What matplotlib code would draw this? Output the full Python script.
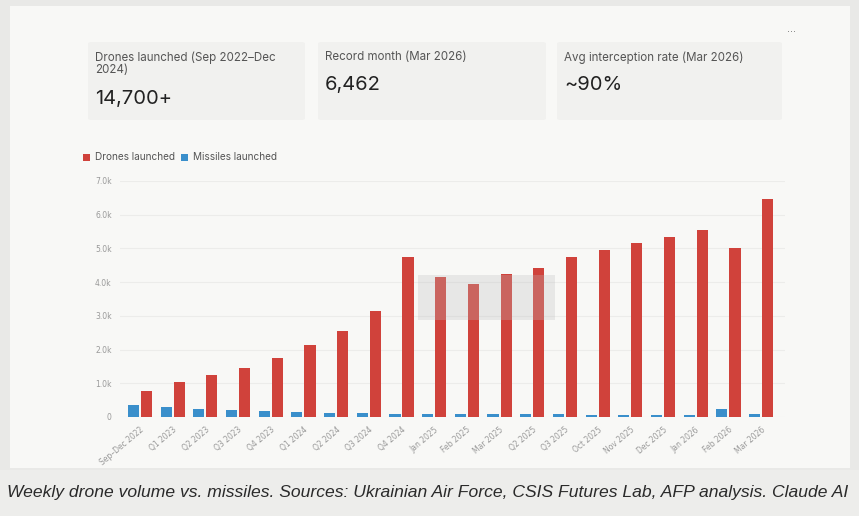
import matplotlib
matplotlib.use("Agg")
import matplotlib.pyplot as plt
from matplotlib.patches import Rectangle, FancyBboxPatch

# Data
periods = ["Sep–Dec 2022", "Q1 2023", "Q2 2023", "Q3 2023", "Q4 2023",
           "Q1 2024", "Q2 2024", "Q3 2024", "Q4 2024", "Jan 2025",
           "Feb 2025", "Mar 2025", "Q2 2025", "Q3 2025", "Oct 2025",
           "Nov 2025", "Dec 2025", "Jan 2026", "Feb 2026", "Mar 2026"]
drones = [780, 1050, 1250, 1450, 1750, 2140, 2540, 3150, 4750, 4150,
          3950, 4240, 4430, 4750, 4960, 5150, 5350, 5550, 5000, 6462]
missiles = [350, 300, 250, 220, 180, 150, 130, 120, 100, 90,
            85, 85, 80, 75, 70, 65, 60, 55, 250, 100]
yticks = [0, 1000, 2000, 3000, 4000, 5000, 6000, 7000]
ytick_labels = ["0", "1.0k", "2.0k", "3.0k", "4.0k", "5.0k", "6.0k", "7.0k"]

kpis = [("Drones launched (Sep 2022–Dec\n2024)", "14,700+"),
        ("Record month (Mar 2026)", "6,462"),
        ("Avg interception rate (Mar 2026)", "~90%")]

red = "#d0423b"
blue = "#3a8fcb"
W, H = 859, 516

fig = plt.figure(figsize=(W / 100, H / 100), dpi=100)
fig.patch.set_facecolor("#e9e9e7")


def fx(px):
    return px / W


def fy(py):
    return 1 - py / H


# card background
fig.patches.append(Rectangle((fx(10), fy(468)), fx(840), 462 / H,
                             transform=fig.transFigure, facecolor="#f8f8f6",
                             edgecolor="none", zorder=-2))

# KPI cards
card_x = [88, 318, 557]
card_w = [217, 228, 225]
for (label, value), x0, w in zip(kpis, card_x, card_w):
    fig.patches.append(FancyBboxPatch((fx(x0), fy(120)), fx(w), 78 / H,
                                      boxstyle="round,pad=0,rounding_size=0.004",
                                      transform=fig.transFigure,
                                      facecolor="#f1f1ef", edgecolor="none", zorder=-1))
    fig.text(fx(x0 + 7), fy(51), label, fontsize=8.3, color="#555555",
             family="Inter", va="top", linespacing=1.1)
    vy = 99 if "\n" in label else 85
    fig.text(fx(x0 + 7), fy(vy), value, fontsize=14.5, color="#222222",
             family="Inter", va="center")
fig.text(fx(792), fy(32), "...", fontsize=7, color="#777777", ha="center")

# legend
fig.patches.append(Rectangle((fx(83), fy(161)), fx(7), 7 / H, transform=fig.transFigure,
                             facecolor=red, edgecolor="none"))
fig.text(fx(95), fy(157.5), "Drones launched", fontsize=7.2, color="#555555",
         family="Inter", va="center")
fig.patches.append(Rectangle((fx(181), fy(161)), fx(7), 7 / H, transform=fig.transFigure,
                             facecolor=blue, edgecolor="none"))
fig.text(fx(193), fy(157.5), "Missiles launched", fontsize=7.2, color="#555555",
         family="Inter", va="center")

# bar chart
ax = fig.add_axes([fx(120), fy(417), fx(665), (417 - 181) / H])
ax.set_zorder(1)
ax.set_facecolor("none")
x = list(range(len(periods)))
bw = 0.34
ax.bar([i - 0.2 for i in x], missiles, width=bw, color=blue, zorder=3)
ax.bar([i + 0.2 for i in x], drones, width=bw, color=red, zorder=3)

# faint tooltip overlay seen in the reference
ax.add_patch(Rectangle((8.5, 2880), 4.2, 1330, facecolor="#bdbdbd", alpha=0.28,
                       edgecolor="none", zorder=4))

ax.set_xlim(-0.61, 19.73)
ax.set_ylim(0, 7000)
ax.set_yticks(yticks)
ax.set_yticklabels(ytick_labels)
ax.set_xticks(x)
ax.set_xticklabels(periods, rotation=40, ha="right", rotation_mode="anchor")
ax.tick_params(axis="both", length=0, labelsize=5.5, colors="#999999", pad=6)
ax.grid(axis="y", color="#ececea", linewidth=0.8, zorder=0)
for s in ax.spines.values():
    s.set_visible(False)

# caption band
fig.patches.append(Rectangle((0, 0), 1, 46 / H, transform=fig.transFigure,
                             facecolor="#ededeb", edgecolor="none", zorder=-1))
fig.text(fx(7), fy(493), "Weekly drone volume vs. missiles. Sources: Ukrainian Air Force, "
         "CSIS Futures Lab, AFP analysis. Claude AI", fontsize=12.6, style="italic",
         color="#2a2a2a", family="Liberation Sans", va="center")

fig.savefig("out.png", dpi=100, facecolor=fig.get_facecolor())
